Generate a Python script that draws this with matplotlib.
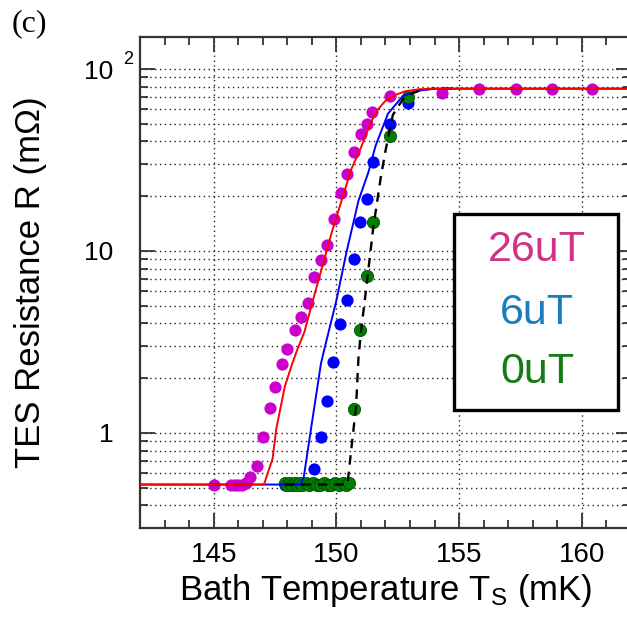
import numpy as np
import matplotlib
matplotlib.use("Agg")
import matplotlib.pyplot as plt
from matplotlib.ticker import FixedLocator, NullFormatter
from matplotlib.patches import Rectangle

plt.rcParams['font.family'] = ['Liberation Sans', 'DejaVu Sans']
plt.rcParams['mathtext.fontset'] = 'custom'
plt.rcParams['mathtext.rm'] = 'Liberation Sans'
plt.rcParams['mathtext.it'] = 'Liberation Sans'

# measured points (bath temperature in mK, resistance in mOhm)
t_26 = [145.0, 145.7, 145.85, 146.0, 146.15, 146.3, 146.5, 146.75, 147.0, 147.3,
        147.5, 147.8, 148.0, 148.3, 148.55, 148.84, 149.1, 149.37, 149.6, 149.9,
        150.2, 150.45, 150.7, 151.0, 151.24, 151.45, 152.2, 154.3, 155.8, 157.3,
        158.8, 160.4]
r_26 = [0.52, 0.52, 0.52, 0.52, 0.52, 0.53, 0.57, 0.66, 0.95, 1.37,
        1.79, 2.39, 2.88, 3.67, 4.32, 5.16, 7.15, 8.9, 10.85, 15.0,
        20.7, 26.6, 35.0, 44.0, 50.0, 58.0, 71.0, 73.5, 78.0, 78.0,
        78.0, 78.0]

t_6 = [147.9, 148.05, 148.2, 148.35, 148.5, 149.1, 149.37, 149.6, 149.86, 150.15,
       150.43, 150.7, 150.96, 151.24, 151.5, 152.2, 152.9]
r_6 = [0.52, 0.52, 0.52, 0.52, 0.52, 0.635, 0.95, 1.5, 2.45, 3.95,
       5.35, 9.0, 14.5, 19.4, 31.0, 50.0, 65.0]

t_0 = [147.9, 148.0, 148.1, 148.2, 148.3, 148.4, 148.5, 148.6, 148.75, 148.9,
       149.05, 149.2, 149.35, 149.5, 149.65, 149.8, 149.95, 150.1, 150.25, 150.4,
       150.5, 150.7, 150.96, 151.24, 151.5, 152.2, 152.9]
r_0 = [0.53, 0.52, 0.53, 0.52, 0.53, 0.52, 0.53, 0.52, 0.53, 0.52,
       0.53, 0.52, 0.52, 0.53, 0.52, 0.52, 0.53, 0.52, 0.53, 0.52,
       0.53, 1.35, 3.7, 7.3, 14.5, 43.0, 70.0]

# model curves
fit_t_26 = [142.0, 147.05, 147.2, 147.4, 147.55, 147.9, 148.2, 148.4, 148.7, 149.0,
            149.8, 150.6, 151.0, 151.3, 151.6, 152.0, 152.4, 152.8, 153.4, 154.5, 162.0]
fit_r_26 = [0.52, 0.52, 0.6, 0.72, 1.05, 1.8, 2.4, 2.85, 3.6, 5.1,
            12.5, 28.0, 37.0, 47.0, 58.0, 67.0, 72.0, 75.5, 77.5, 78.0, 78.0]

fit_t_6 = [142.0, 148.55, 148.67, 148.96, 149.37, 149.5, 149.7, 150.0, 150.4, 150.9,
           151.3, 151.6, 152.1, 152.7, 153.25, 153.9, 162.0]
fit_r_6 = [0.52, 0.52, 0.57, 1.04, 2.4, 2.85, 3.67, 5.35, 9.7, 18.9,
           27.0, 38.0, 56.8, 71.0, 75.6, 78.0, 78.0]

fit_t_0 = [147.9, 150.45, 150.5, 150.65, 150.8, 150.9, 151.0, 151.2, 151.5, 151.8,
           152.0, 152.3, 152.7, 153.1, 153.5, 154.0, 155.0]
fit_r_0 = [0.52, 0.52, 0.6, 0.92, 1.39, 2.6, 3.6, 6.0, 13.4, 25.0,
           35.6, 56.0, 68.0, 73.7, 77.0, 78.0, 78.0]

labels = ['26uT', '6uT', '0uT']
label_colors = ['#cf3286', '#1a7dc0', '#167a16']

fig = plt.figure(figsize=(6.27, 6.18), dpi=100)
ax = fig.add_axes([140 / 627, 90 / 618, 491 / 627, 491 / 618])

ms = 8.8
ax.plot(t_26, r_26, 'o', color='#cc00cc', ms=ms, mew=0, zorder=3)
ax.plot(t_6, r_6, 'o', color='#0000ff', ms=ms, mew=0, zorder=3)
ax.plot(t_0, r_0, 'o', color='#008000', mec='#005000', ms=ms, mew=0.6, zorder=3)

ax.plot(fit_t_6, fit_r_6, '-', color='#0000ff', lw=1.4, zorder=4)
ax.plot(fit_t_0, fit_r_0, '--', color='black', lw=1.7, dashes=(4, 3), zorder=4)
ax.plot(fit_t_26, fit_r_26, '-', color='#ff0000', lw=1.4, zorder=5)

ax.set_yscale('log')
ax.set_xlim(142, 162)
ax.set_ylim(0.3, 150)

ax.xaxis.set_major_locator(FixedLocator([145, 150, 155, 160]))
ax.xaxis.set_minor_locator(FixedLocator(np.arange(142, 163, 1)))
ax.yaxis.set_major_locator(FixedLocator([1, 10, 100]))
minor_y = [m * d for d in (0.1, 1, 10) for m in range(2, 10) if 0.3 <= m * d <= 150]
ax.yaxis.set_minor_locator(FixedLocator(minor_y))
ax.yaxis.set_minor_formatter(NullFormatter())
ax.set_yticklabels(['1', '10', '10'])

ax.tick_params(which='both', direction='in', top=True, right=True, width=1.3, color='#333333')
ax.tick_params(which='major', length=11)
ax.tick_params(which='minor', length=6)
ax.tick_params(axis='x', labelsize=20, pad=10)
ax.tick_params(axis='y', labelsize=19, pad=19)

for s in ax.spines.values():
    s.set_linewidth(1.6)
    s.set_color('#333333')

ax.grid(axis='x', which='major', color='#222222', ls=(0, (1, 2.5)), lw=1.0)
ax.grid(axis='y', which='both', color='#222222', ls=(0, (1, 2.5)), lw=1.0)
ax.set_axisbelow(True)

ax.annotate('2', xy=(0, 100), xycoords=('axes fraction', 'data'),
            xytext=(-12, 7), textcoords='offset points',
            ha='left', va='center', fontsize=13)

ax.set_xlabel('Bath Temperature T$_\\mathregular{S}$ (mK)', fontsize=25, labelpad=3)
ax.set_ylabel('TES Resistance R (m\u03a9)', fontsize=25)
ax.yaxis.set_label_coords(-0.19, 0.5)

fig.text(12 / 627, 1 - 24 / 618, '(c)', fontsize=23, family='Liberation Serif',
         ha='left', va='center')

# text box with the field labels
box = Rectangle((454 / 627, 208 / 618), 164 / 627, 196 / 618, transform=fig.transFigure,
                facecolor='white', edgecolor='black', lw=2.4, zorder=10)
fig.patches.append(box)
for lab, col, yp in zip(labels, label_colors, [250, 313, 372]):
    fig.text(537 / 627, 1 - yp / 618, lab, color=col, fontsize=31,
             ha='center', va='center', zorder=11)

fig.savefig('out.png', dpi=100)
